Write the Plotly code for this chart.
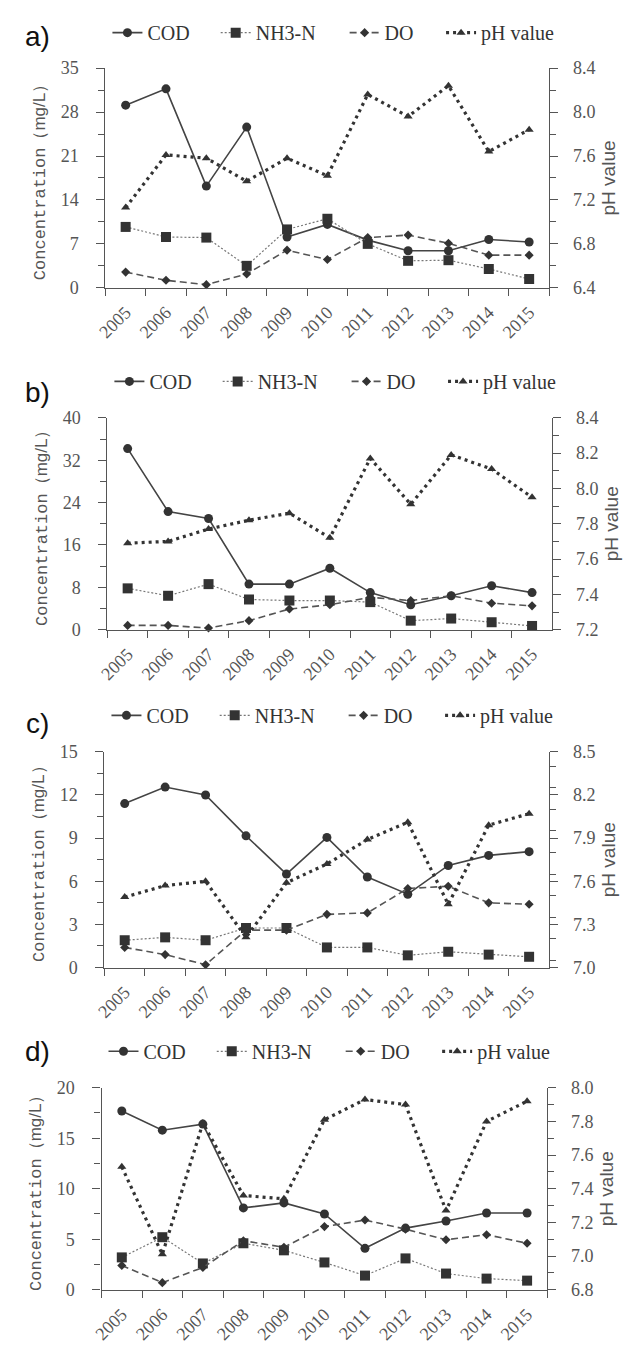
import plotly.graph_objects as go

W, H = 632, 1347

years = [str(y) for y in range(2005, 2016)]
series_names = ["COD", "NH3-N", "DO", "pH value"]

# Panel a
cod_a = [29.1, 31.7, 16.2, 25.6, 8.1, 10.1, 7.6, 5.9, 5.9, 7.7, 7.3]
nh3_a = [9.7, 8.1, 8.0, 3.5, 9.3, 11.0, 7.0, 4.3, 4.4, 3.0, 1.4]
do_a = [2.5, 1.2, 0.5, 2.2, 6.0, 4.5, 8.0, 8.4, 7.1, 5.2, 5.2]
ph_a = [7.13, 7.61, 7.58, 7.37, 7.58, 7.42, 8.16, 7.96, 8.24, 7.64, 7.84]

# Panel b
cod_b = [34.2, 22.3, 21.0, 8.6, 8.6, 11.6, 7.0, 4.7, 6.4, 8.3, 7.0]
nh3_b = [7.8, 6.4, 8.6, 5.7, 5.5, 5.5, 5.2, 1.7, 2.1, 1.4, 0.7]
do_b = [0.8, 0.8, 0.3, 1.7, 3.9, 4.7, 6.1, 5.5, 6.4, 5.0, 4.5]
ph_b = [7.69, 7.70, 7.77, 7.82, 7.86, 7.72, 8.17, 7.91, 8.19, 8.11, 7.95]

# Panel c
cod_c = [11.4, 12.55, 12.0, 9.16, 6.5, 9.05, 6.3, 5.1, 7.1, 7.8, 8.06]
nh3_c = [1.9, 2.1, 1.9, 2.75, 2.75, 1.4, 1.4, 0.85, 1.1, 0.9, 0.75]
do_c = [1.4, 0.9, 0.2, 2.6, 2.6, 3.7, 3.8, 5.5, 5.65, 4.5, 4.4]
ph_c = [7.49, 7.57, 7.60, 7.21, 7.59, 7.72, 7.89, 8.01, 7.44, 7.99, 8.07]

# Panel d
cod_d = [17.7, 15.8, 16.4, 8.1, 8.6, 7.5, 4.1, 6.1, 6.8, 7.6, 7.6]
nh3_d = [3.2, 5.2, 2.6, 4.6, 3.9, 2.7, 1.4, 3.1, 1.6, 1.1, 0.9]
do_d = [2.4, 0.7, 2.2, 4.85, 4.2, 6.25, 6.9, 6.0, 4.95, 5.45, 4.6]
ph_d = [7.53, 7.01, 7.79, 7.36, 7.34, 7.81, 7.93, 7.90, 7.27, 7.80, 7.92]

panel_labels = ["a)", "b)", "c)", "d)"]
left_ranges = [[0, 35], [0, 40], [0, 15], [0, 20]]
left_dticks = [7, 8, 3, 5]
right_ranges = [[6.4, 8.4], [7.2, 8.4], [7.0, 8.5], [6.8, 8.0]]
right_dticks = [0.4, 0.2, 0.3, 0.2]

panels = [
    (cod_a, nh3_a, do_a, ph_a),
    (cod_b, nh3_b, do_b, ph_b),
    (cod_c, nh3_c, do_c, ph_c),
    (cod_d, nh3_d, do_d, ph_d),
]

SERIF = "'Liberation Serif', 'Times New Roman', 'DejaVu Serif', serif"
SANS = "'Liberation Sans', Arial, sans-serif"
MONO = "'Liberation Mono', 'Courier New', monospace"

# pixel geometry of each panel: (left, right, top, bottom)
boxes = [(97, 548, 59, 282), (99, 551, 414, 629), (96, 548, 753, 972), (93, 546, 1094, 1299)]
legend_y = [23, 377, 716, 1057]
label_y = [27, 388, 724, 1057]
# legend text start offsets relative to the panel's left axis
legend_text_dx = [50, 160, 291, 389]

styles = [
    dict(line=dict(color="#444", width=1.6, dash="solid"),
         marker=dict(symbol="circle", size=9, color="#333")),
    dict(line=dict(color="#777", width=1.2, dash="2px,2px"),
         marker=dict(symbol="square", size=10, color="#333")),
    dict(line=dict(color="#555", width=1.6, dash="7px,4px"),
         marker=dict(symbol="diamond", size=7, color="#333")),
    dict(line=dict(color="#333", width=3.2, dash="3px,4px"),
         marker=dict(symbol="triangle-up", size=8, color="#333")),
]

fig = go.Figure()
tickfont = dict(family=SERIF, size=18, color="#555")
axcol = "#555"
annotations = []
legends = {}

for i, (vals, box) in enumerate(zip(panels, boxes)):
    l, r, t, b = box
    xa = "x" if i == 0 else f"x{i+1}"
    yl = "y" if i == 0 else f"y{2*i+1}"
    yr = f"y{2*i+2}"
    for j, (name, v) in enumerate(zip(series_names, vals)):
        k = i * 4 + j + 1
        lg = "legend" if k == 1 else f"legend{k}"
        fig.add_trace(go.Scatter(
            x=years, y=v, name=name, mode="lines+markers",
            xaxis=xa, yaxis=(yr if j == 3 else yl), legend=lg,
            cliponaxis=False, **styles[j]))
        legends[lg] = dict(
            orientation="h", x=(l + legend_text_dx[j] - 48) / W, xanchor="left",
            y=1 - legend_y[i] / H, yanchor="middle",
            font=dict(family=SERIF, size=20, color="#333"),
            bgcolor="rgba(0,0,0,0)", itemwidth=30, tracegroupgap=0)
    xd = [l / W, r / W]
    yd = [1 - b / H, 1 - t / H]
    xkey = "xaxis" if i == 0 else f"xaxis{i+1}"
    ylkey = "yaxis" if i == 0 else f"yaxis{2*i+1}"
    yrkey = f"yaxis{2*i+2}"
    fig.layout[xkey] = dict(
        domain=xd, anchor=yl, type="category", categoryorder="array", categoryarray=years,
        range=[-0.5, 10.5], tickson="boundaries", ticks="outside", ticklen=7,
        tickcolor=axcol, tickwidth=1.2, showline=True, linecolor=axcol, linewidth=1.2,
        showgrid=False, zeroline=False, tickangle=-45, tickfont=tickfont,
        ticklabelstandoff=6)
    lr = left_ranges[i]
    fig.layout[ylkey] = dict(
        domain=yd, anchor=xa, range=lr, dtick=left_dticks[i], tick0=0,
        ticks="outside", ticklen=8, tickcolor=axcol, tickwidth=1.2,
        minor=dict(ticks="outside", ticklen=6, dtick=left_dticks[i] / 2, tickcolor=axcol, tickwidth=1.2),
        showline=True, linecolor=axcol, linewidth=1.2, showgrid=False, zeroline=False,
        tickfont=tickfont, ticklabelstandoff=14,
        title=dict(text="Concentration<span style=\"font-family:'Liberation Sans'\">（mg/L）</span>",
                   font=dict(family=MONO, size=17, color="#555"),
                   standoff=10))
    rr = right_ranges[i]
    fig.layout[yrkey] = dict(
        domain=yd, anchor=xa, overlaying=yl, side="right", range=rr,
        dtick=right_dticks[i], tick0=rr[0], tickformat=".1f",
        ticks="outside", ticklen=8, tickcolor=axcol, tickwidth=1.2,
        minor=dict(ticks="outside", ticklen=6, dtick=right_dticks[i] / 2, tickcolor=axcol, tickwidth=1.2),
        showline=True, linecolor=axcol, linewidth=1.2, showgrid=False, zeroline=False,
        tickfont=tickfont, ticklabelstandoff=11,
        title=dict(text="pH value", font=dict(family=SANS, size=19, color="#555"),
                   standoff=7))
    annotations.append(dict(
        text=panel_labels[i], x=28 / W, y=1 - label_y[i] / H, xref="paper", yref="paper",
        xanchor="center", yanchor="middle", showarrow=False,
        font=dict(family=SANS, size=28, color="#111")))

fig.update_layout(
    width=W, height=H, margin=dict(l=0, r=0, t=0, b=0),
    paper_bgcolor="white", plot_bgcolor="white",
    annotations=annotations, showlegend=True, **legends)

fig.write_html("out.html")
